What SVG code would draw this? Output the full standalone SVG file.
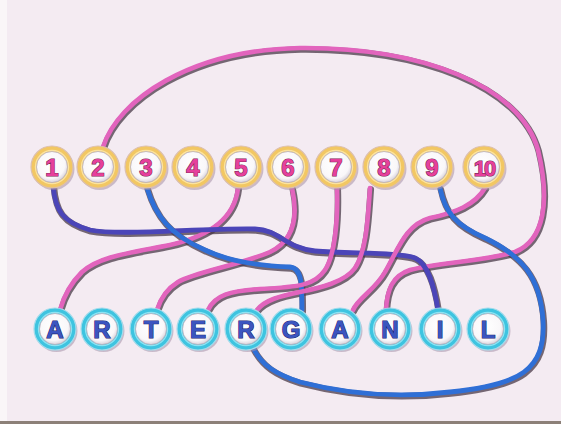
<svg xmlns="http://www.w3.org/2000/svg" width="561" height="424" viewBox="0 0 561 424">
<defs>
<radialGradient id="wht" cx="0.45" cy="0.4" r="0.65">
<stop offset="0" stop-color="#ffffff"/><stop offset="0.72" stop-color="#f9f7f9"/><stop offset="1" stop-color="#cfc8d2"/>
</radialGradient>
<style>
.sh{fill:none;stroke:#4a3a48;stroke-width:6.5;stroke-linecap:round;opacity:0.75}
.pk{fill:none;stroke:#e264bd;stroke-width:4.6;stroke-linecap:round}
.bl{fill:none;stroke:#2f6fd6;stroke-width:4.8;stroke-linecap:round}
.ig{fill:none;stroke:#4b45b8;stroke-width:4.8;stroke-linecap:round}
.cs{fill:#a58fa8;opacity:0.55}
.yr{fill:#f2c763;stroke:#dcbfae;stroke-width:1.2}
.yi{fill:none;stroke:#fbe3a0;stroke-width:1.2}
.cr{fill:#3ec4e0;stroke:#a4dcec;stroke-width:1.2}
.ci{fill:none;stroke:#8ee3f2;stroke-width:1.2}
.wc{fill:url(#wht);stroke:#b8b0bc;stroke-width:0.8}
.num{font-family:"Liberation Sans",Arial,sans-serif;font-weight:bold;font-size:24px;fill:#e6409c;stroke:#7a2a55;stroke-width:1.2;paint-order:stroke;text-anchor:middle}
.let{font-family:"Liberation Sans",Arial,sans-serif;font-weight:bold;font-size:24px;fill:#3b55c0;stroke:#1d2670;stroke-width:1.2;paint-order:stroke;text-anchor:middle}
</style>
</defs>
<rect width="561" height="424" fill="#f4ebf2"/>
<rect x="0" y="0" width="7" height="424" fill="#faf6f8"/>
<rect x="0" y="421" width="561" height="3" fill="#8c8078"/>

<g id="connectors">
<g transform="translate(0.8,1.4)">
<path class="sh" d="M103,147 C118,100 190,50 300,48 C420,47 520,85 538,150 C550,200 545,240 515,252 C480,262 440,262 410,270 C392,276 387,290 386,310"/>
<path class="sh" d="M53,185 C55,210 62,222 90,230 C120,236 200,228 255,229 C280,230 285,248 315,251 C350,254 400,252 415,258 C428,264 434,285 438,310"/>
<path class="sh" d="M147,188 C155,215 170,235 205,250 C230,262 260,266 290,267 C302,268 302,285 302,310"/>
<path class="sh" d="M238,188 C235,215 215,235 170,245 C130,253 100,256 82,272 C70,284 64,295 60,310"/>
<path class="sh" d="M292,188 C298,215 295,240 270,252 C240,265 195,272 178,282 C165,290 160,300 157,310"/>
<path class="sh" d="M337,188 C338,220 335,255 325,270 C315,285 300,287 260,289 C230,291 215,295 208,310"/>
<path class="sh" d="M370,188 C368,215 367,250 355,268 C345,282 320,288 300,292 C280,296 265,300 257,310"/>
<path class="sh" d="M485,188 C475,205 455,213 430,218 C405,225 398,250 385,272 C375,290 358,298 353,310"/>
<path class="sh" d="M440,188 C445,212 455,225 485,238 C520,255 540,275 543,320 C546,370 520,385 450,392 C400,398 350,395 300,382 C275,374 262,365 253,348"/>
</g>
<path class="pk" d="M103,147 C118,100 190,50 300,48 C420,47 520,85 538,150 C550,200 545,240 515,252 C480,262 440,262 410,270 C392,276 387,290 386,310"/>
<path class="pk" d="M238,188 C235,215 215,235 170,245 C130,253 100,256 82,272 C70,284 64,295 60,310"/>
<path class="pk" d="M292,188 C298,215 295,240 270,252 C240,265 195,272 178,282 C165,290 160,300 157,310"/>
<path class="ig" d="M53,185 C55,210 62,222 90,230 C120,236 200,228 255,229 C280,230 285,248 315,251 C350,254 400,252 415,258 C428,264 434,285 438,310"/>
<path class="bl" d="M147,188 C155,215 170,235 205,250 C230,262 260,266 290,267 C302,268 302,285 302,310"/>
<path class="pk" d="M337,188 C338,220 335,255 325,270 C315,285 300,287 260,289 C230,291 215,295 208,310"/>
<path class="pk" d="M370,188 C368,215 367,250 355,268 C345,282 320,288 300,292 C280,296 265,300 257,310"/>
<path class="pk" d="M485,188 C475,205 455,213 430,218 C405,225 398,250 385,272 C375,290 358,298 353,310"/>
<path class="bl" d="M440,188 C445,212 455,225 485,238 C520,255 540,275 543,320 C546,370 520,385 450,392 C400,398 350,395 300,382 C275,374 262,365 253,348"/>
</g>

<g id="n1"><circle cx="53.5" cy="169" r="21" class="cs"/><circle cx="52" cy="167" r="21" class="yr"/><circle cx="52" cy="167" r="16.6" class="yi"/><circle cx="52" cy="167" r="15.5" class="wc"/><text x="52" y="176" class="num">1</text></g>
<g id="n2"><circle cx="99.5" cy="169" r="21" class="cs"/><circle cx="98" cy="167" r="21" class="yr"/><circle cx="98" cy="167" r="16.6" class="yi"/><circle cx="98" cy="167" r="15.5" class="wc"/><text x="98" y="176" class="num">2</text></g>
<g id="n3"><circle cx="147.5" cy="169" r="21" class="cs"/><circle cx="146" cy="167" r="21" class="yr"/><circle cx="146" cy="167" r="16.6" class="yi"/><circle cx="146" cy="167" r="15.5" class="wc"/><text x="146" y="176" class="num">3</text></g>
<g id="n4"><circle cx="194.5" cy="169" r="21" class="cs"/><circle cx="193" cy="167" r="21" class="yr"/><circle cx="193" cy="167" r="16.6" class="yi"/><circle cx="193" cy="167" r="15.5" class="wc"/><text x="193" y="176" class="num">4</text></g>
<g id="n5"><circle cx="242.5" cy="169" r="21" class="cs"/><circle cx="241" cy="167" r="21" class="yr"/><circle cx="241" cy="167" r="16.6" class="yi"/><circle cx="241" cy="167" r="15.5" class="wc"/><text x="241" y="176" class="num">5</text></g>
<g id="n6"><circle cx="289.5" cy="169" r="21" class="cs"/><circle cx="288" cy="167" r="21" class="yr"/><circle cx="288" cy="167" r="16.6" class="yi"/><circle cx="288" cy="167" r="15.5" class="wc"/><text x="288" y="176" class="num">6</text></g>
<g id="n7"><circle cx="337.5" cy="169" r="21" class="cs"/><circle cx="336" cy="167" r="21" class="yr"/><circle cx="336" cy="167" r="16.6" class="yi"/><circle cx="336" cy="167" r="15.5" class="wc"/><text x="336" y="176" class="num">7</text></g>
<g id="n8"><circle cx="385.5" cy="169" r="21" class="cs"/><circle cx="384" cy="167" r="21" class="yr"/><circle cx="384" cy="167" r="16.6" class="yi"/><circle cx="384" cy="167" r="15.5" class="wc"/><text x="384" y="176" class="num">8</text></g>
<g id="n9"><circle cx="433.5" cy="169" r="21" class="cs"/><circle cx="432" cy="167" r="21" class="yr"/><circle cx="432" cy="167" r="16.6" class="yi"/><circle cx="432" cy="167" r="15.5" class="wc"/><text x="432" y="176" class="num">9</text></g>
<g id="n10"><circle cx="485.5" cy="169" r="21" class="cs"/><circle cx="484" cy="167" r="21" class="yr"/><circle cx="484" cy="167" r="16.6" class="yi"/><circle cx="484" cy="167" r="15.5" class="wc"/><text x="484" y="175.5" class="num" style="font-size:22px;letter-spacing:-2px">10</text></g>

<g id="lA1"><circle cx="56.5" cy="331" r="21" class="cs"/><circle cx="55" cy="329" r="21" class="cr"/><circle cx="55" cy="329" r="16.6" class="ci"/><circle cx="55" cy="329" r="15.5" class="wc"/><text x="55" y="338" class="let">A</text></g>
<g id="lR1"><circle cx="103.5" cy="331" r="21" class="cs"/><circle cx="102" cy="329" r="21" class="cr"/><circle cx="102" cy="329" r="16.6" class="ci"/><circle cx="102" cy="329" r="15.5" class="wc"/><text x="102" y="338" class="let">R</text></g>
<g id="lT"><circle cx="152.5" cy="331" r="21" class="cs"/><circle cx="151" cy="329" r="21" class="cr"/><circle cx="151" cy="329" r="16.6" class="ci"/><circle cx="151" cy="329" r="15.5" class="wc"/><text x="151" y="338" class="let">T</text></g>
<g id="lE"><circle cx="199.5" cy="331" r="21" class="cs"/><circle cx="198" cy="329" r="21" class="cr"/><circle cx="198" cy="329" r="16.6" class="ci"/><circle cx="198" cy="329" r="15.5" class="wc"/><text x="198" y="338" class="let">E</text></g>
<g id="lR2"><circle cx="247.5" cy="331" r="21" class="cs"/><circle cx="246" cy="329" r="21" class="cr"/><circle cx="246" cy="329" r="16.6" class="ci"/><circle cx="246" cy="329" r="15.5" class="wc"/><text x="246" y="338" class="let">R</text></g>
<g id="lG"><circle cx="292.5" cy="331" r="21" class="cs"/><circle cx="291" cy="329" r="21" class="cr"/><circle cx="291" cy="329" r="16.6" class="ci"/><circle cx="291" cy="329" r="15.5" class="wc"/><text x="291" y="338" class="let">G</text></g>
<g id="lA2"><circle cx="341.5" cy="331" r="21" class="cs"/><circle cx="340" cy="329" r="21" class="cr"/><circle cx="340" cy="329" r="16.6" class="ci"/><circle cx="340" cy="329" r="15.5" class="wc"/><text x="340" y="338" class="let">A</text></g>
<g id="lN"><circle cx="391.5" cy="331" r="21" class="cs"/><circle cx="390" cy="329" r="21" class="cr"/><circle cx="390" cy="329" r="16.6" class="ci"/><circle cx="390" cy="329" r="15.5" class="wc"/><text x="390" y="338" class="let">N</text></g>
<g id="lI"><circle cx="441.5" cy="331" r="21" class="cs"/><circle cx="440" cy="329" r="21" class="cr"/><circle cx="440" cy="329" r="16.6" class="ci"/><circle cx="440" cy="329" r="15.5" class="wc"/><text x="440" y="338" class="let">I</text></g>
<g id="lL"><circle cx="489.5" cy="331" r="21" class="cs"/><circle cx="488" cy="329" r="21" class="cr"/><circle cx="488" cy="329" r="16.6" class="ci"/><circle cx="488" cy="329" r="15.5" class="wc"/><text x="488" y="338" class="let">L</text></g>
</svg>
